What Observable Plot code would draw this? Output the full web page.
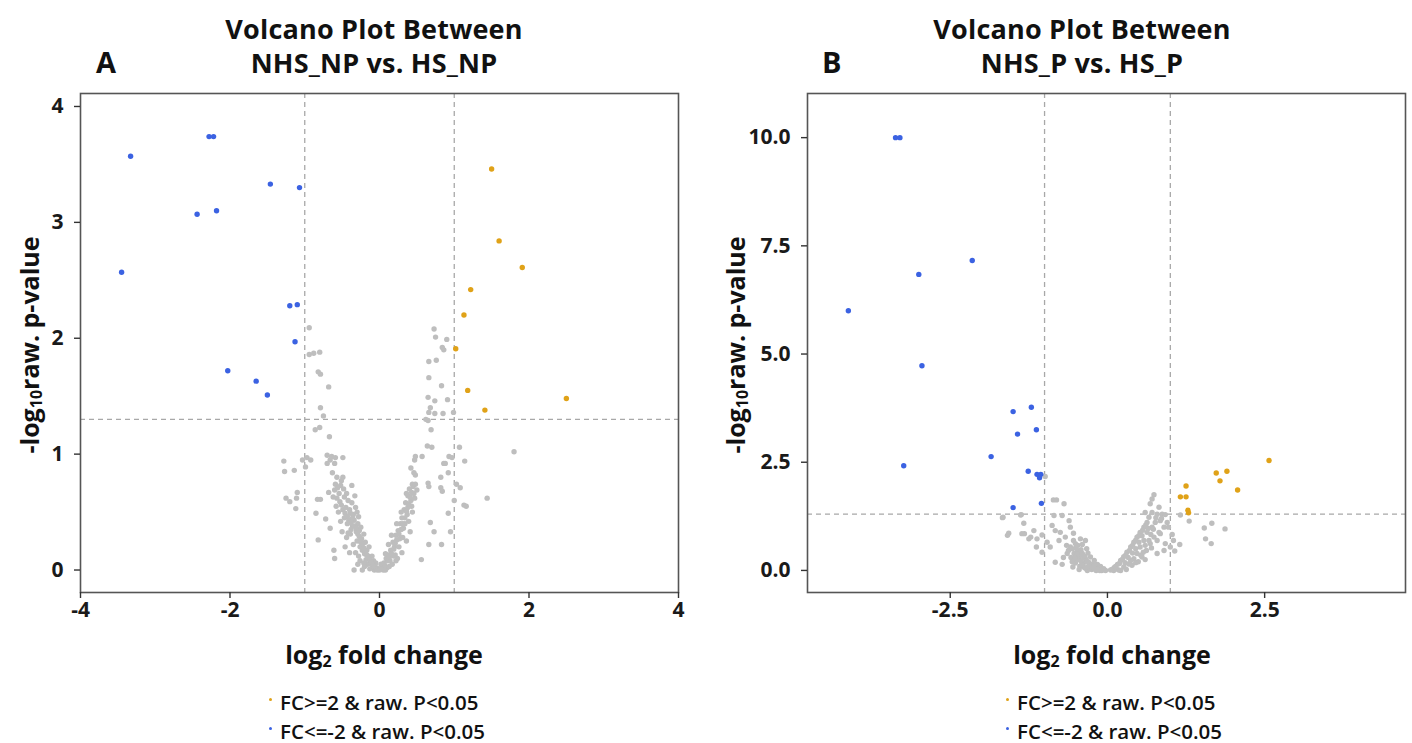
<!DOCTYPE html>
<html><head><meta charset="utf-8">
<script src="https://cdn.jsdelivr.net/npm/d3@7"></script>
<script src="https://cdn.jsdelivr.net/npm/@observablehq/plot@0.6"></script>
<style>
body{margin:0;background:#fff;width:1412px;height:743px;position:relative;overflow:hidden;font-family:"Open Sans",sans-serif;color:#111;}
.abs{position:absolute;}
.title{font-weight:700;font-size:27px;text-align:center;line-height:27px;white-space:nowrap;transform:translateX(-50%);letter-spacing:0.2px;}
.panel{font-weight:700;font-size:29px;line-height:28px;}
.xlab{font-weight:700;font-size:25px;white-space:nowrap;transform:translate(-50%,-50%);}
.ylab{font-weight:700;font-size:25px;white-space:nowrap;transform:translate(-50%,-50%) rotate(-90deg);}
.ylab sub,.xlab sub{font-size:16px;vertical-align:-3px;line-height:0;}
.leg{font-weight:600;font-size:20.5px;white-space:nowrap;line-height:29px;}
.legdot{display:inline-block;width:3px;height:3px;border-radius:50%;margin-right:8px;vertical-align:9px;}
svg{position:absolute;}
</style></head><body>
<script>
// ---------- data ----------
const titleA = ["Volcano Plot Between", "NHS_NP vs. HS_NP"];
const titleB = ["Volcano Plot Between", "NHS_P vs. HS_P"];
const legendLabels = ["FC>=2 & raw. P<0.05", "FC<=-2 & raw. P<0.05"];
const fcThresholds = [-1, 1];
const pThreshold = 1.3;

const xTicksA = [-4, -2, 0, 2, 4];
const yTicksA = [0, 1, 2, 3, 4];
const xTicksB = [-2.5, 0, 2.5];
const yTicksB = [0, 2.5, 5, 7.5, 10];

// panel A: [log2FC, -log10 p]
const upA = [[1.50,3.46],[1.60,2.84],[1.91,2.61],[1.22,2.42],[1.13,2.20],[1.02,1.91],[1.18,1.55],[1.41,1.38],[2.50,1.48]];
const downA = [[-3.33,3.57],[-2.28,3.74],[-2.22,3.74],[-1.46,3.33],[-1.07,3.30],[-2.44,3.07],[-2.18,3.10],[-3.45,2.57],
  [-1.20,2.28],[-1.10,2.29],[-1.13,1.97],[-2.03,1.72],[-1.65,1.63],[-1.50,1.51]];
const nsA = [
  [-0.94,2.09],[-0.94,1.86],[-0.88,1.87],[-0.80,1.88],[-0.82,1.71],[-0.79,1.69],[-0.68,1.58],[-0.79,1.40],[-0.75,1.33],[-0.80,1.23],[-0.86,1.21],[-0.67,1.15],
  [-0.97,0.97],[-0.92,0.95],[-0.99,0.89],[-1.03,0.95],[-0.70,0.99],[-0.64,0.98],[-0.59,0.97],[-0.49,0.97],[-0.66,0.95],[-0.70,0.92],[-0.60,0.92],
  [-1.28,0.94],[-1.27,0.85],[-1.14,0.86],[-0.63,0.84],[-0.57,0.80],[-0.49,0.80],[-0.51,0.77],[-0.59,0.74],[-0.37,0.73],
  [-1.25,0.62],[-1.20,0.59],[-1.11,0.62],[-1.12,0.53],[-1.10,0.67],[-0.68,0.67],[-0.83,0.61],[-0.79,0.61],[-0.85,0.49],[-0.72,0.44],
  [-0.66,0.36],[-0.82,0.26],[-0.61,0.17],[-0.60,0.10],[-0.34,0.00],[-0.23,0.00],
  [-0.54,0.66],[-0.47,0.63],[-0.42,0.60],[-0.37,0.58],[-0.32,0.54],[-0.30,0.50],[-0.28,0.46],[-0.39,0.49],[-0.34,0.43],[-0.43,0.40],
  [-0.50,0.33],[-0.39,0.31],[-0.25,0.37],[-0.21,0.31],[-0.30,0.25],[-0.19,0.24],[-0.14,0.20],[-0.23,0.17],[-0.10,0.12],[-0.05,0.06],
  [-0.16,0.05],[-0.01,0.01],[-0.07,0.00],[-0.53,0.59],[-0.45,0.54],[-0.48,0.70],[-0.44,0.66],[-0.40,0.52],[-0.35,0.48],[-0.47,0.45],
  [-0.36,0.38],[-0.31,0.33],[-0.27,0.29],[-0.44,0.28],[-0.35,0.22],[-0.26,0.20],[-0.20,0.14],[-0.28,0.12],[-0.12,0.08],[-0.18,0.09],
  [-0.09,0.03],[-0.13,0.01],[-0.04,0.02],[-0.40,0.15],[-0.46,0.20],[-0.55,0.50],[-0.52,0.42],[-0.58,0.55],[-0.62,0.63],[-0.56,0.71],
  [-0.33,0.64],[-0.29,0.40],[-0.24,0.27],[-0.17,0.17],[-0.11,0.05],[-0.21,0.06],[-0.26,0.08],[-0.15,0.12],[-0.08,0.08],[-0.38,0.35],
  [-0.51,0.56],[-0.49,0.52],[-0.46,0.49],[-0.43,0.46],[-0.41,0.43],[-0.38,0.41],[-0.36,0.45],[-0.33,0.38],[-0.31,0.36],[-0.29,0.31],
  [-0.27,0.34],[-0.25,0.24],[-0.23,0.22],[-0.21,0.19],[-0.19,0.16],[-0.17,0.13],[-0.15,0.10],[-0.13,0.09],[-0.11,0.07],[-0.09,0.05],
  [-0.07,0.03],[-0.05,0.01],[-0.03,0.00],[-0.20,0.03],[-0.29,0.05],[-0.32,0.15],[-0.42,0.32],[-0.57,0.62],[-0.60,0.69],[-0.52,0.73],
  [0.03,0.03],[0.06,0.06],[0.09,0.10],[0.12,0.13],[0.15,0.17],[0.18,0.24],[0.20,0.20],[0.22,0.30],[0.25,0.34],[0.27,0.27],
  [0.30,0.45],[0.28,0.40],[0.32,0.36],[0.33,0.52],[0.35,0.58],[0.37,0.48],[0.38,0.64],[0.40,0.70],[0.42,0.60],[0.44,0.50],
  [0.10,0.02],[0.17,0.05],[0.24,0.10],[0.30,0.15],[0.36,0.25],[0.05,0.00],[0.14,0.08],[0.21,0.13],[0.26,0.20],[0.31,0.28],
  [0.39,0.42],[0.41,0.33],[0.47,0.62],[0.44,0.74],[0.36,0.66],[0.29,0.50],[0.23,0.40],[0.16,0.30],[0.02,0.05],[0.08,0.14],
  [0.12,0.22],[0.00,0.00],[0.19,0.12],[0.34,0.40],[0.43,0.55],[0.38,0.54],
  [0.04,0.01],[0.07,0.04],[0.11,0.08],[0.13,0.11],[0.16,0.14],[0.19,0.18],[0.21,0.23],[0.23,0.26],[0.26,0.31],[0.29,0.35],
  [0.31,0.40],[0.34,0.45],[0.36,0.51],[0.39,0.57],[0.41,0.63],[0.43,0.67],[0.45,0.72],[0.08,0.00],[0.13,0.03],[0.22,0.08],
  [0.73,2.08],[0.75,2.01],[0.90,1.99],[0.84,1.92],[0.86,1.90],[0.66,1.80],[0.76,1.81],[0.66,1.66],[0.83,1.59],[0.65,1.49],
  [0.74,1.46],[0.91,1.47],[0.68,1.40],[0.66,1.36],[0.74,1.35],[0.85,1.35],[0.99,1.36],[0.62,1.30],[0.65,1.29],[0.69,1.21],
  [0.64,1.07],[0.70,1.06],[1.07,1.06],[0.48,0.98],[0.57,0.98],[0.47,0.95],[0.93,0.98],[0.97,0.97],[0.86,0.92],[0.88,0.92],
  [1.14,0.94],[0.42,0.88],[0.46,0.84],[0.48,0.82],[0.82,0.80],[0.92,0.84],[0.65,0.75],[0.66,0.72],[0.82,0.71],[0.84,0.68],
  [1.03,0.74],[1.08,0.71],[0.48,0.74],[0.50,0.69],[0.46,0.66],[1.00,0.60],[1.13,0.56],[1.16,0.55],[0.92,0.49],[0.68,0.41],
  [0.73,0.33],[0.95,0.33],[0.66,0.22],[0.83,0.22],[0.56,0.09],[1.80,1.02],[1.44,0.62]
];

// panel B
const upB = [[1.25,1.95],[1.16,1.70],[1.25,1.70],[1.28,1.39],[1.29,1.33],[1.73,2.25],[1.90,2.29],[1.79,2.07],[2.07,1.86],[2.57,2.54]];
const downB = [[-3.37,10.0],[-3.30,10.0],[-4.12,6.00],[-3.00,6.84],[-2.15,7.16],[-2.95,4.73],[-3.24,2.42],[-1.50,3.67],[-1.21,3.77],
  [-1.43,3.15],[-1.13,3.25],[-1.85,2.63],[-1.26,2.29],[-1.12,2.22],[-1.06,2.22],[-1.08,2.14],[-1.05,1.55],[-1.50,1.45]];
const nsB = [
  [-1.67,1.22],[-1.57,0.86],[-1.59,0.81],[-1.38,1.28],[-1.33,1.09],[-1.32,0.85],[-1.22,0.77],[-1.17,0.92],[-1.12,0.73],[-1.04,0.82],
  [-1.13,0.54],[-1.04,0.42],[-0.99,2.17],[-0.96,0.65],[-0.91,0.54],[-0.86,1.63],[-0.81,1.63],[-0.69,1.54],[-0.85,1.27],[-0.72,1.27],
  [-0.88,1.04],[-0.83,0.92],[-0.75,0.88],[-0.77,0.69],[-0.67,0.77],[-0.61,1.15],[-0.59,1.00],[-0.54,0.86],[-0.43,0.73],[-0.83,0.19],
  [-0.72,0.14],[-0.64,0.39],[-0.59,0.54],[-0.51,0.62],[-1.66,1.23],[-1.37,1.29],[-1.36,0.85],[-1.25,0.73],
  [-0.48,0.46],[-0.40,0.39],[-0.35,0.27],[-0.30,0.19],[-0.24,0.12],[-0.19,0.06],[-0.14,0.02],[-0.09,0.00],[-0.38,0.08],[-0.32,0.00],
  [-0.43,0.23],[-0.53,0.39],[-0.56,0.50],[-0.47,0.58],[-0.33,0.50],[-0.27,0.31],[-0.21,0.23],[-0.16,0.14],[-0.11,0.09],[-0.46,0.31],
  [-0.38,0.17],[-0.28,0.08],[-0.06,0.04],[-0.03,0.00],[-0.51,0.17],[-0.40,0.60],[-0.35,0.69],[-0.54,0.69],[-0.44,0.10],[-0.25,0.02],
  [-0.18,0.00],[-0.31,0.40],[-0.22,0.16],[-0.13,0.06],[-0.36,0.33],[-0.42,0.48],[-0.49,0.25],[-0.58,0.30],[-0.62,0.46],[-0.45,0.02],
  [-0.50,0.52],[-0.45,0.42],[-0.41,0.35],[-0.37,0.29],[-0.33,0.22],[-0.29,0.15],[-0.26,0.11],[-0.23,0.07],[-0.20,0.04],[-0.16,0.02],
  [-0.41,0.13],[-0.35,0.05],[-0.30,0.10],[-0.48,0.38],[-0.52,0.28],[-0.56,0.20],[-0.65,0.58],[-0.70,0.30],[-0.55,0.08],[-0.12,0.00],
  [0.05,0.01],[0.11,0.07],[0.16,0.14],[0.21,0.23],[0.26,0.32],[0.31,0.42],[0.37,0.54],[0.42,0.65],[0.47,0.77],[0.52,0.88],
  [0.58,1.00],[0.63,1.11],[0.66,1.23],[0.71,1.34],[0.74,1.75],[0.71,1.65],[0.68,1.54],[0.79,1.30],[0.87,1.30],[0.92,1.29],
  [0.95,1.11],[0.97,1.00],[1.03,0.83],[0.90,1.00],[0.84,0.85],[0.79,0.69],[0.92,0.62],[0.90,0.46],[1.05,0.69],[1.00,0.54],
  [0.63,0.88],[0.58,0.69],[0.52,0.54],[0.47,0.39],[0.42,0.27],[0.34,0.15],[0.26,0.08],[0.18,0.01],[0.74,0.77],[0.71,1.00],
  [0.76,1.11],[0.68,0.62],[0.62,0.46],[0.79,0.39],[0.55,0.31],[0.21,0.00],[0.37,0.23],[0.45,0.50],[0.50,0.65],[0.66,0.69],
  [0.82,0.88],[0.84,1.15],[0.60,1.34],[0.82,1.46],[0.10,0.00],[0.28,0.18],[0.33,0.30],[0.40,0.40],[0.55,0.80],[0.60,0.58],
  [0.70,0.52],[0.30,0.02],[0.14,0.04],[0.49,0.20],[0.57,0.42],
  [0.08,0.03],[0.13,0.09],[0.19,0.16],[0.24,0.26],[0.29,0.35],[0.35,0.46],[0.40,0.58],[0.45,0.70],[0.50,0.80],[0.56,0.93],
  [0.61,1.05],[0.65,0.97],[0.69,0.83],[0.73,0.95],[0.77,1.22],[0.86,1.20],[0.53,0.35],[0.39,0.12],[0.45,0.18],[0.60,0.25],
  [1.30,1.14],[1.54,0.98],[1.66,1.09],[1.56,0.73],[1.65,0.62],[1.87,0.96],[1.16,1.28],[1.07,0.45],[1.15,0.60]
];

// ---------- colours / layout ----------
const colUp = "#E0A218", colDown = "#3B62E2", colNs = "#BEBEBE";

function el(tag, cls, html, css) {
  const e = document.createElement(tag);
  if (cls) e.className = cls;
  e.innerHTML = html;
  Object.assign(e.style, css);
  document.body.appendChild(e);
  return e;
}

function panel(cfg) {
  const p = Plot.plot({
    width: cfg.width, height: cfg.height,
    marginLeft: cfg.ml, marginRight: cfg.mr, marginTop: cfg.mt, marginBottom: cfg.mb,
    x: {domain: cfg.xd},
    y: {domain: cfg.yd},
    style: {fontFamily: "Open Sans", fontSize: "21px", fontWeight: "700", color: "#1a1a1a", background: "transparent", overflow: "visible"},
    marks: [
      Plot.ruleX(fcThresholds, {stroke: "#a8a8a8", strokeWidth: 1.3, strokeDasharray: "5,4"}),
      Plot.ruleY([pThreshold], {stroke: "#a8a8a8", strokeWidth: 1.3, strokeDasharray: "5,4"}),
      Plot.dot(cfg.ns, {x: d => d[0], y: d => d[1], r: 2.7, fill: colNs}),
      Plot.dot(cfg.down, {x: d => d[0], y: d => d[1], r: 2.7, fill: colDown}),
      Plot.dot(cfg.up, {x: d => d[0], y: d => d[1], r: 2.7, fill: colUp}),
      Plot.frame({stroke: "#555", strokeWidth: 1.6}),
      Plot.axisX({ticks: cfg.xt, tickFormat: cfg.fmt, tickSize: 6, tickPadding: 4, label: null, stroke: "#333", strokeWidth: 1.4}),
      Plot.axisY({ticks: cfg.yt, tickFormat: cfg.fmt, tickSize: 6, tickPadding: 11, label: null, stroke: "#333", strokeWidth: 1.4})
    ]
  });
  p.style.left = cfg.left + "px";
  p.style.top = cfg.top + "px";
  document.body.appendChild(p);

  el("div", "title abs", cfg.title[0], {left: cfg.titleX + "px", top: "15px"});
  el("div", "title abs", cfg.title[1], {left: cfg.titleX + "px", top: "49px"});
  el("div", "panel abs", cfg.tag, {left: cfg.tagX + "px", top: "48px"});
  el("div", "xlab abs", "log<sub>2</sub> fold change", {left: cfg.xlabX + "px", top: "654px"});
  el("div", "ylab abs", "-log<sub>10</sub>raw. p-value", {left: cfg.ylabX + "px", top: "345px"});
  el("div", "leg abs",
     `<span class="legdot" style="background:${colUp}"></span>${legendLabels[0]}<br>` +
     `<span class="legdot" style="background:${colDown}"></span>${legendLabels[1]}`,
     {left: cfg.legX + "px", top: "688px"});
}

panel({tag: "A", title: titleA, left: 0, top: 85, width: 700, height: 545, ml: 80, mr: 22, mt: 8, mb: 38,
  xd: [-4, 4], yd: [-0.194, 4.112], xt: xTicksA, yt: yTicksA, fmt: d => String(d),
  up: upA, down: downA, ns: nsA, titleX: 374, tagX: 96, xlabX: 384, ylabX: 29, legX: 269});
panel({tag: "B", title: titleB, left: 720, top: 85, width: 692, height: 545, ml: 87, mr: 7, mt: 8, mb: 38,
  xd: [-4.77, 4.74], yd: [-0.51, 11.02], xt: xTicksB, yt: yTicksB, fmt: d => d.toFixed(1),
  up: upB, down: downB, ns: nsB, titleX: 1082, tagX: 822, xlabX: 1112, ylabX: 735, legX: 1006});
</script>
</body></html>
